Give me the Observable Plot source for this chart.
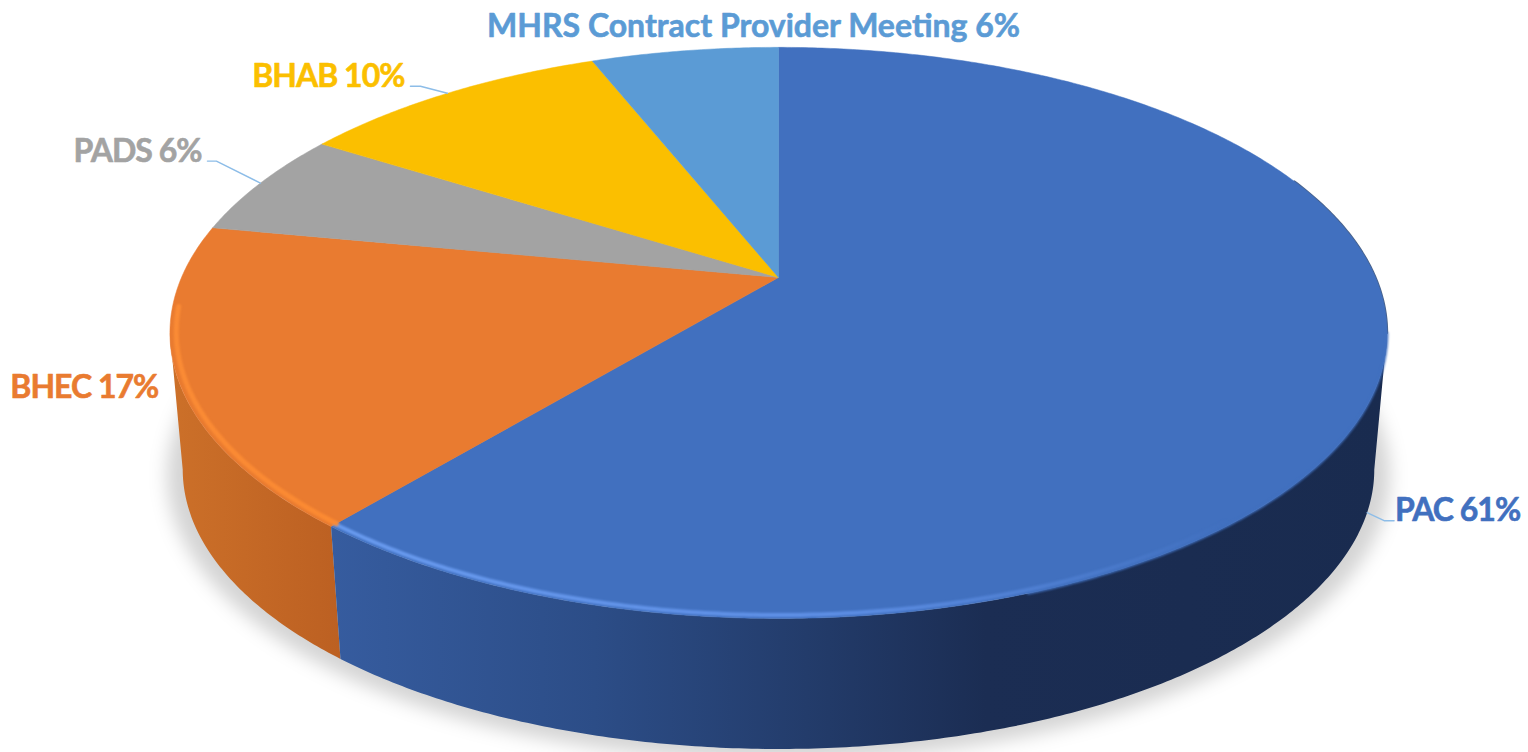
<!DOCTYPE html>
<html>
<head>
<meta charset="utf-8">
<style>html,body{margin:0;padding:0;background:#fff;overflow:hidden}</style>
<script src="https://cdn.jsdelivr.net/npm/d3@7"></script>
<script src="https://cdn.jsdelivr.net/npm/@observablehq/plot@0.6"></script>
</head>
<body>
<div id="chart"></div>
<script>
// ---- data ----
const categories = ["PAC", "BHEC", "PADS", "BHAB", "MHRS Contract Provider Meeting"];
const shares = [61, 17, 6, 10, 6];
const colors = ["#4170BF", "#E97B30", "#A3A3A3", "#FBBF00", "#5B9BD5"];

// ---- view of the tilted disc ----
const W = 1528, H = 752;
const apex = [778, 277], spread = 597, lift = 274.8, persp = 0.194;
const baseScale = 0.979, baseDrop = 137.7;
const deg = Math.PI / 180;
const silhouette = Math.acos(-persp); // where the rim turns away from the viewer

function rim(a, r = 1, base = false) {
  const u = r * Math.sin(a), v = r * Math.cos(a), w = 1 + persp * v;
  const X = spread * u / w, Y = -lift * v / w;
  return base ? {x: apex[0] + baseScale * X, y: apex[1] + baseScale * Y + baseDrop}
              : {x: apex[0] + X, y: apex[1] + Y};
}
function arc(a0, a1, r, base) {
  const n = Math.max(2, Math.ceil(Math.abs(a1 - a0) / (0.5 * deg)));
  return d3.range(n + 1).map(i => rim(a0 + (a1 - a0) * i / n, r, base));
}

const arcs = d3.pie().sort(null).value(d => d)(shares);
const slices = arcs.map((s, i) => ({name: categories[i], share: shares[i], start: s.startAngle, end: s.endAngle, mid: (s.startAngle + s.endAngle) / 2}));

const lid = slices.flatMap(s => [
  {x: apex[0], y: apex[1], name: s.name},
  ...arc(s.start, s.end).map(p => ({...p, name: s.name})),
  {x: apex[0], y: apex[1], name: s.name}
]);
const [pac, bhec] = slices;
// only the front of the rim is visible
const wall = (a0, a1) => [...arc(a0, a1), ...arc(a1, a0, 1, true)];

// label placement relative to each slice's mid-rim point
const labelPlacement = [
  {anchor: "start", dx: 28, dy: -2, tracking: -1, base: true,  leader: [[17, 8], [27, 8]]},
  {anchor: "end",   dx: -19, dy: 11, tracking: -1, base: false, leader: null},
  {anchor: "end",   dx: -59, dy: -31, tracking: -1, base: false, leader: [[-44, -22], [-53, -22]]},
  {anchor: "end",   dx: -43, dy: -17, tracking: -1, base: false, leader: [[-27, -7], [-37, -7]]},
  {anchor: "middle",dx: 69, dy: -24, tracking: 0, base: false, leader: null}
];
const labels = slices.map((s, i) => ({...s, ...rim(s.mid, 1, labelPlacement[i].base), text: `${s.name} ${s.share}%`, place: labelPlacement[i]}));

const leaders = labels.filter(l => l.place.leader).flatMap(l => [
  {x: l.x, y: l.y, name: l.name},
  ...l.place.leader.map(([dx, dy]) => ({x: l.x + dx, y: l.y + dy, name: l.name}))
]);

const shadow = arc(0, 2 * Math.PI, 1.0, true).map(p => ({x: apex[0] + (p.x - apex[0]) * 1.026, y: p.y + 6 + (p.y - 470) * 0.02}));

const chart = Plot.plot({
  width: W, height: H,
  margin: 0,
  style: {display: "block", background: "#fff"},
  x: {domain: [0, W], range: [0, W], axis: null},
  y: {domain: [0, H], range: [0, H], axis: null},
  color: {domain: categories, range: colors},
  marks: [
    Plot.line(shadow, {x: "x", y: "y", fill: "#000", fillOpacity: 0.17, stroke: "none", imageFilter: "blur(9px)"}),
    Plot.line(wall(pac.end, 2 * Math.PI - silhouette), {x: "x", y: "y", fill: "url(#wallOrange)", stroke: "none"}),
    Plot.line(wall(silhouette, pac.end), {x: "x", y: "y", fill: "url(#wallBlue)", stroke: "none"}),
    // thin shaded edge at the back right of the lid
    Plot.line(arc(68 * deg, silhouette, 1.0), {x: "x", y: "y", stroke: "#2a4674", strokeWidth: 2.2, strokeOpacity: 0.85}),
    Plot.line(lid, {x: "x", y: "y", z: "name", fill: "name", stroke: "name", strokeWidth: 0.5}),
    // soft edge of the lid against the dark wall
    Plot.line(arc(silhouette, 160 * deg, 1.0), {x: "x", y: "y", stroke: "#4170BF", strokeWidth: 2.5, imageFilter: "blur(1.2px)"}),
    // bevel highlights
    Plot.line(arc(pac.end, 140 * deg, 0.992), {x: "x", y: "y", stroke: "url(#bevelBlue)", strokeWidth: 4, imageFilter: "blur(1.2px)"}),
    Plot.line(arc(bhec.start, 264 * deg, 0.99), {x: "x", y: "y", stroke: "url(#bevelOrange)", strokeWidth: 5, imageFilter: "blur(1px)"}),
    Plot.line(leaders, {x: "x", y: "y", z: "name", stroke: "#8dbde8", strokeWidth: 1.4}),
    ...labels.map(l => Plot.text([l], {
      x: "x", y: "y", text: "text", fill: "name", stroke: "name", strokeWidth: 0.6, dx: l.place.dx, dy: l.place.dy,
      textAnchor: l.place.anchor, fontFamily: "Lato", fontWeight: "bold", fontSize: 32
    }))
  ]
});

// tighten the caps and digits of the short labels
d3.select(chart).selectAll("text").each(function() {
  const l = labels.find(d => d.text === this.textContent);
  if (l) this.style.letterSpacing = `${l.place.tracking}px`;
});

d3.select(chart).insert("defs", ":first-child").html(`
  <linearGradient id="wallBlue" x1="0" x2="1" y1="0" y2="0">
    <stop offset="0" stop-color="#365c9f"/>
    <stop offset="0.25" stop-color="#2c4d87"/>
    <stop offset="0.45" stop-color="#233c6b"/>
    <stop offset="0.62" stop-color="#1b2d53"/>
    <stop offset="1" stop-color="#192b4f"/>
  </linearGradient>
  <linearGradient id="wallOrange" x1="0" x2="1" y1="0" y2="0">
    <stop offset="0" stop-color="#cc7029"/>
    <stop offset="1" stop-color="#bc6022"/>
  </linearGradient>
  <linearGradient id="bevelBlue" x1="0" x2="1" y1="0" y2="0">
    <stop offset="0" stop-color="#6a9cf0"/>
    <stop offset="0.55" stop-color="#5f90e6"/>
    <stop offset="1" stop-color="#4170BF"/>
  </linearGradient>
  <linearGradient id="bevelOrange" x1="0" x2="1" y1="0" y2="0">
    <stop offset="0" stop-color="#fa8b35"/>
    <stop offset="1" stop-color="#fb8a32"/>
  </linearGradient>`);

document.getElementById("chart").appendChild(chart);
</script>
</body>
</html>
